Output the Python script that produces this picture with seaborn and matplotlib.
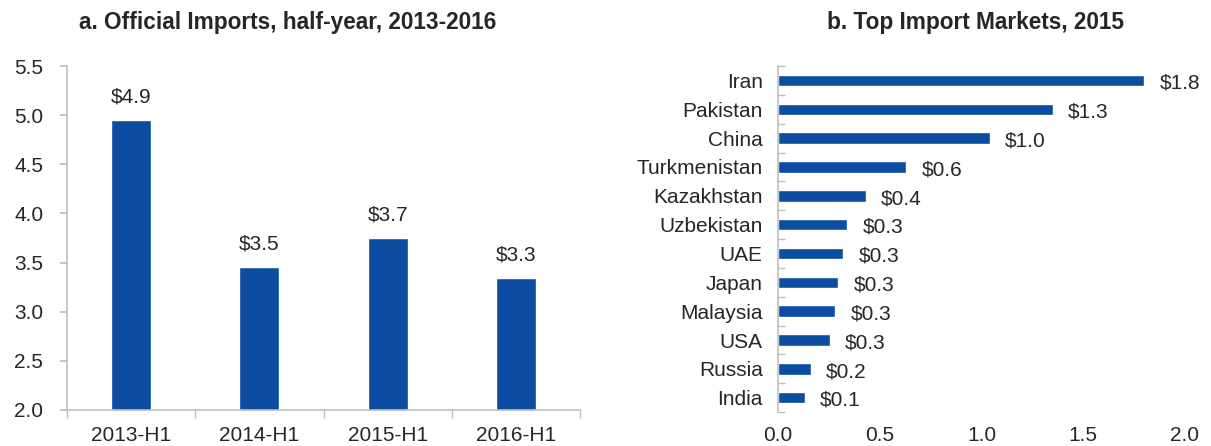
import matplotlib
matplotlib.use("Agg")
import matplotlib.pyplot as plt
import seaborn as sns
import pandas as pd
import numpy as np

sns.set_theme(style="white")
plt.rcParams["font.family"] = ["Liberation Sans", "DejaVu Sans"]

BLUE = "#0D4DA1"
GREY = "#BFBFBF"
FS = 15

# panel a
periods = ["2013-H1", "2014-H1", "2015-H1", "2016-H1"]
imports = [4.95, 3.45, 3.75, 3.34]
import_labels = ["$4.9", "$3.5", "$3.7", "$3.3"]

# panel b
countries = ["Iran", "Pakistan", "China", "Turkmenistan", "Kazakhstan", "Uzbekistan",
             "UAE", "Japan", "Malaysia", "USA", "Russia", "India"]
market_vals = [1.80, 1.35, 1.04, 0.63, 0.43, 0.34, 0.32, 0.295, 0.28, 0.255, 0.16, 0.13]
market_labels = ["$1.8", "$1.3", "$1.0", "$0.6", "$0.4", "$0.3",
                 "$0.3", "$0.3", "$0.3", "$0.3", "$0.2", "$0.1"]

df_a = pd.DataFrame({"period": periods, "value": imports})
df_b = pd.DataFrame({"country": countries, "value": market_vals})

fig = plt.figure(figsize=(12.11, 4.46), dpi=100)
ax1 = fig.add_axes([0.0553, 0.081, 0.4237, 0.771])
ax2 = fig.add_axes([0.6425, 0.076, 0.336, 0.776])

# --- panel a
sns.barplot(data=df_a, x="period", y="value", color=BLUE, width=0.31,
            saturation=1, errorbar=None, ax=ax1)
ax1.set_ylim(2.0, 5.5)
ax1.set_xlim(-0.5, 3.5)
ax1.set_yticks(np.arange(2.0, 5.51, 0.5))
ax1.set_yticklabels([f"{t:.1f}" for t in np.arange(2.0, 5.51, 0.5)])
ax1.set_xticks(np.arange(-0.5, 3.6, 1.0), minor=True)
ax1.tick_params(axis="x", which="major", length=0, pad=11.5, labelsize=FS)
ax1.tick_params(axis="x", which="minor", length=6, color=GREY, direction="out", bottom=True)
ax1.tick_params(axis="y", length=5, color=GREY, direction="out", left=True, labelsize=FS, pad=12)
for i, (v, lab) in enumerate(zip(imports, import_labels)):
    ax1.annotate(lab, (i, v), xytext=(0, 10), textcoords="offset points",
                 ha="center", va="bottom", fontsize=FS)
for s in ["top", "right"]:
    ax1.spines[s].set_visible(False)
for s in ["left", "bottom"]:
    ax1.spines[s].set_color(GREY)
    ax1.spines[s].set_linewidth(1.2)
ax1.set_xlabel("")
ax1.set_ylabel("")
ax1.set_title("a. Official Imports, half-year, 2013-2016", fontsize=16.3,
              fontweight="bold", pad=27, x=0.43)

# --- panel b
sns.barplot(data=df_b, x="value", y="country", color=BLUE, width=0.4,
            saturation=1, errorbar=None, orient="h", ax=ax2)
ax2.set_xlim(0, 2.0)
ax2.set_ylim(11.5, -0.5)
ax2.set_xticks(np.arange(0, 2.01, 0.5))
ax2.set_xticklabels([f"{t:.1f}" for t in np.arange(0, 2.01, 0.5)])
ax2.set_yticks(np.arange(-0.5, 11.6, 1.0), minor=True)
ax2.tick_params(axis="y", which="major", length=0, pad=11, labelsize=FS)
ax2.tick_params(axis="y", which="minor", length=5, color=GREY, direction="in", left=True)
ax2.tick_params(axis="x", length=0, pad=10, labelsize=FS)
for i, (v, lab) in enumerate(zip(market_vals, market_labels)):
    ax2.annotate(lab, (v, i), xytext=(11, -2), textcoords="offset points",
                 ha="left", va="center", fontsize=FS)
for s in ["top", "right", "bottom"]:
    ax2.spines[s].set_visible(False)
ax2.spines["left"].set_color(GREY)
ax2.spines["left"].set_linewidth(1.2)
ax2.set_xlabel("")
ax2.set_ylabel("")
ax2.set_title("b. Top Import Markets, 2015", fontsize=16.3, fontweight="bold",
              pad=27, x=0.484)

fig.savefig("out.png", dpi=100, facecolor="white")
